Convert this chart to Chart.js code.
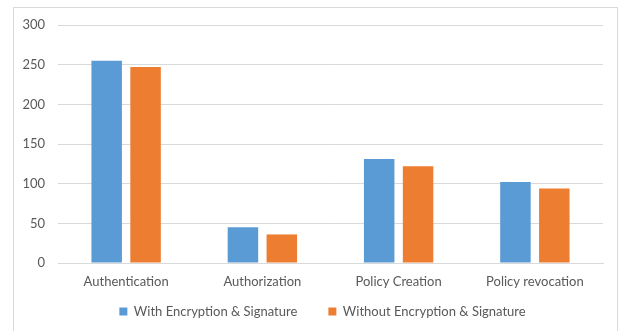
<!DOCTYPE html>
<html>
<head>
<meta charset="utf-8">
<script src="https://cdn.jsdelivr.net/npm/chart.js@4"></script>
<style>
  html, body { margin: 0; padding: 0; background: #ffffff; }
  #wrap { width: 622px; height: 331px; position: relative; }
</style>
</head>
<body>
<div id="wrap"><canvas id="c" width="622" height="331"></canvas></div>
<script>
const categories = ['Authentication', 'Authorization', 'Policy Creation', 'Policy revocation'];
const withEncSig = [255, 45, 131, 102];
const withoutEncSig = [247, 36, 122, 94];
const seriesNames = ['With Encryption & Signature', 'Without Encryption & Signature'];
const yTicks = [0, 50, 100, 150, 200, 250, 300];

const FONT = 'Lato, "Liberation Sans", sans-serif';
const TEXT = '#595959';
const GRID = '#d9d9d9';

// light frame around the whole chart
const framePlugin = {
  id: 'frame',
  beforeDraw(chart) {
    const ctx = chart.ctx;
    ctx.save();
    ctx.fillStyle = '#ffffff';
    ctx.fillRect(0, 0, chart.width, chart.height);
    ctx.strokeStyle = '#d9d9d9';
    ctx.lineWidth = 1;
    ctx.strokeRect(13.5, 7.5, 604, 340);
    ctx.restore();
  }
};

// nudge the legend row: wide gap between items, sitting close under the axis labels
const legendPlace = {
  id: 'legendPlace',
  afterLayout(chart) {
    const lg = chart.legend;
    if (!lg) return;
    lg.left += 21;
    lg.right += 21;
    lg.top = 274;
    lg.bottom = 331;
  }
};

new Chart(document.getElementById('c'), {
  type: 'bar',
  data: {
    labels: categories,
    datasets: [
      { label: seriesNames[0], data: withEncSig, backgroundColor: '#5b9bd5',
        categoryPercentage: 0.571, barPercentage: 0.784 },
      { label: seriesNames[1], data: withoutEncSig, backgroundColor: '#ed7d31',
        categoryPercentage: 0.571, barPercentage: 0.784 }
    ]
  },
  plugins: [framePlugin, legendPlace],
  options: {
    responsive: false,
    animation: false,
    layout: { padding: { left: 0, right: 19, top: 25, bottom: 0 } },
    plugins: {
      tooltip: { enabled: false },
      legend: {
        position: 'bottom',
        maxHeight: 36,
        labels: {
          boxWidth: 8, boxHeight: 8, padding: 31,
          color: TEXT, font: { family: FONT, size: 13 }
        }
      }
    },
    scales: {
      x: {
        grid: { display: false, drawTicks: false },
        border: { display: true, color: GRID, width: 1 },
        ticks: { color: TEXT, font: { family: FONT, size: 13 }, padding: 11, maxRotation: 0 },
        afterFit(scale) { scale.height = 32; }
      },
      y: {
        min: 0, max: 300,
        afterBuildTicks(scale) { scale.ticks = yTicks.map(v => ({ value: v })); },
        grid: { color: GRID, lineWidth: 1, drawTicks: false },
        border: { display: false },
        ticks: { color: TEXT, font: { family: FONT, size: 13 }, padding: 13 },
        afterFit(scale) { scale.width = 58; }
      }
    }
  }
});
</script>
</body>
</html>
